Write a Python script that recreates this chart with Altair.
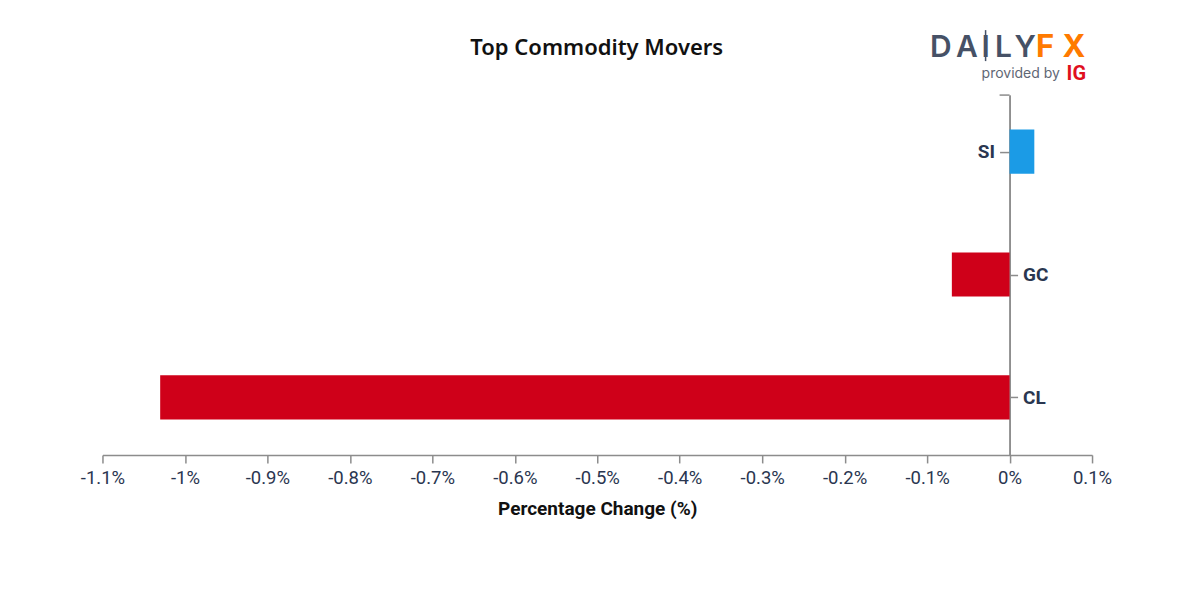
import altair as alt
import pandas as pd

symbols = ["SI", "GC", "CL"]
changes = [0.03, -0.07, -1.03]
x_ticks = [-1.1, -1.0, -0.9, -0.8, -0.7, -0.6, -0.5, -0.4, -0.3, -0.2, -0.1, 0, 0.1]
left_labels = ["SI"]
right_labels = ["GC", "CL"]

INK = "#2a3650"
AXIS_GREY = "#8c8c8c"
LOGO_SLATE = "#465166"
LOGO_ORANGE = "#ff7a00"
FONT = "Roboto"

df = pd.DataFrame({"symbol": symbols, "change": changes})
df["colour"] = ["#1b9be6" if v > 0 else "#cf0019" for v in changes]

# one row only, so that the free texts and rules are drawn once
single = pd.DataFrame({"row": [0]})

y_scale = alt.Scale(domain=symbols, paddingInner=0.64, paddingOuter=0.285)
x_enc = alt.X(
    "change:Q",
    scale=alt.Scale(domain=[-1.1, 0.1], nice=False, zero=False),
    axis=alt.Axis(
        values=x_ticks,
        labelExpr="datum.value + '%'",
        title="Percentage Change (%)",
        titleFont=FONT,
        titleFontSize=19,
        titleFontWeight="bold",
        titleColor="#111111",
        titlePadding=12,
        labelFont=FONT,
        labelFontSize=18.5,
        labelColor=INK,
        labelPadding=6,
        labelFlush=False,
        labelOverlap=False,
        tickColor=AXIS_GREY,
        tickSize=8,
        tickWidth=1.5,
        domainColor=AXIS_GREY,
        domainWidth=1.5,
        grid=False,
    ),
)


def y_axis(orient, values, offset, tick_size):
    return alt.Y(
        "symbol:N",
        scale=y_scale,
        sort=symbols,
        axis=alt.Axis(
            orient=orient,
            values=values,
            offset=offset,
            title=None,
            labelFont=FONT,
            labelFontSize=19,
            labelFontWeight="bold",
            labelColor=INK,
            labelPadding=5,
            labelAngle=0,
            tickColor=AXIS_GREY,
            tickSize=tick_size,
            tickWidth=1.5,
            domainColor=AXIS_GREY,
            domainWidth=1.5,
            grid=False,
        ),
    )


bars = (
    alt.Chart(df)
    .mark_bar(yOffset=-0.5)
    .encode(
        x=x_enc,
        x2=alt.datum(0),
        y=y_axis("left", left_labels, -907.5, 10),
        color=alt.Color("colour:N", scale=None),
    )
)

# second y axis on the other side, for the labels of the falling bars
right_axis = (
    alt.Chart(df)
    .mark_bar(opacity=0)
    .encode(x=x_enc, x2=alt.datum(0), y=y_axis("right", right_labels, -82.5, 8))
)

top_cap = alt.Chart(single).mark_rule(color=AXIS_GREY, strokeWidth=1.5).encode(
    x=alt.value(897.5), x2=alt.value(907.5), y=alt.value(0)
)


def free_text(text, x, y, size, color, weight="normal", font="Inter", align="left"):
    return alt.Chart(single).mark_text(
        text=text, font=font, fontSize=size, fontWeight=weight, color=color, align=align, baseline="alphabetic"
    ).encode(x=alt.value(x), y=alt.value(y))


title = free_text("Top Commodity Movers", 494.5, -40, 22, "#111111", 600, "Noto Sans", "center")

# logo, letter by letter since vega text has no letter spacing
logo = [
    free_text("D", 828, -38, 30, LOGO_SLATE, 600),
    free_text("A", 854, -38, 30, LOGO_SLATE, 600),
    free_text("I", 883.5, -38, 30, LOGO_SLATE, 600, align="center"),
    free_text("L", 893, -38, 30, LOGO_SLATE, 600),
    free_text("Y", 923, -38, 30, LOGO_SLATE, 600, align="center"),
    free_text("F", 934, -38, 31, LOGO_ORANGE, "bold"),
    free_text("X", 972, -38, 31, LOGO_ORANGE, "bold", align="center"),
    free_text("provided by", 879.5, -17, 14, "#5f6775"),
    free_text("IG", 964.5, -15, 20, "#e0101e", "bold", FONT),
]
wick = alt.Chart(single).mark_rule(color=LOGO_SLATE, strokeWidth=1.5).encode(
    x=alt.value(883.5), y=alt.value(-65), y2=alt.value(-34)
)

chart = (
    alt.layer(bars, right_axis, top_cap, title, wick, *logo)
    .resolve_axis(y="independent")
    .properties(
        width=990,
        height=360,
        padding={"left": 94.5, "top": 87, "right": 100, "bottom": 137},
        autosize=alt.AutoSizeParams(type="none"),
    )
    .configure_view(stroke=None)
)

chart.save("out.html", embed_options={"renderer": "svg", "actions": False})
